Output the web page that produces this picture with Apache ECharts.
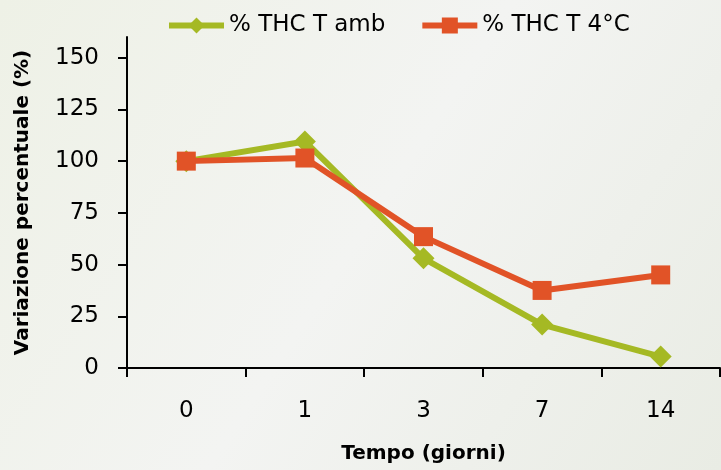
<!DOCTYPE html>
<html>
<head>
    <meta charset="utf-8">
    <script src="https://cdn.jsdelivr.net/npm/echarts@6/dist/echarts.min.js"></script>
    <style>
        html, body { margin: 0; padding: 0; }
        #main { width: 721px; height: 470px; }
    </style>
</head>
<body>
    <div id="main"></div>
    <script>
        var giorni = ['0', '1', '3', '7', '14'];
        var thcAmb = [100, 109.5, 53, 21, 5.5];
        var thc4 = [100, 101.5, 63.5, 37.5, 45];
        var yTicks = [0, 25, 50, 75, 100, 125, 150];

        var font = 'DejaVu Sans';
        var chart = echarts.init(document.getElementById('main'));

        var option = {
            backgroundColor: {
                type: 'linear', x: 0, y: 0, x2: 1, y2: 1,
                colorStops: [
                    { offset: 0, color: '#eef1e6' },
                    { offset: 0.5, color: '#f3f4f2' },
                    { offset: 1, color: '#e9ece4' }
                ]
            },
            textStyle: { fontFamily: font },
            legend: {
                top: 9,
                left: 161,
                itemWidth: 55,
                itemHeight: 20,
                itemGap: 34,
                lineStyle: { width: 6 },
                textStyle: { fontSize: 23, color: '#000', fontFamily: font },
                data: ['% THC T amb', '% THC T 4°C']
            },
            grid: { left: 127, right: 1, top: 37, bottom: 102 },
            xAxis: {
                type: 'category',
                data: giorni,
                boundaryGap: true,
                axisLine: { lineStyle: { color: '#000', width: 2 } },
                axisTick: { show: true, length: 9, lineStyle: { color: '#000', width: 2 } },
                axisLabel: { color: '#000', fontSize: 23, margin: 32, fontFamily: font },
                name: 'Tempo (giorni)',
                nameLocation: 'middle',
                nameGap: 76,
                nameTextStyle: { fontSize: 20, fontWeight: 'bold', color: '#000', fontFamily: font }
            },
            yAxis: {
                type: 'value',
                min: 0,
                max: 160,
                axisLine: { show: true, lineStyle: { color: '#000', width: 2 } },
                axisTick: { show: true, length: 9, customValues: yTicks, lineStyle: { color: '#000', width: 2 } },
                axisLabel: { color: '#000', fontSize: 23, margin: 28, customValues: yTicks, fontFamily: font },
                splitLine: { show: false },
                name: 'Variazione percentuale (%)',
                nameLocation: 'middle',
                nameGap: 94,
                nameTextStyle: { fontSize: 20, fontWeight: 'bold', color: '#000', fontFamily: font }
            },
            series: [{
                name: '% THC T amb',
                type: 'line',
                data: thcAmb,
                symbol: 'diamond',
                symbolSize: 22,
                itemStyle: { color: '#a5b924' },
                lineStyle: { color: '#a5b924', width: 6 },
                z: 2
            }, {
                name: '% THC T 4°C',
                type: 'line',
                data: thc4,
                symbol: 'rect',
                symbolSize: 19,
                itemStyle: { color: '#e15327' },
                lineStyle: { color: '#e15327', width: 6 },
                z: 3
            }]
        };

        chart.setOption(option);
    </script>
</body>
</html>
